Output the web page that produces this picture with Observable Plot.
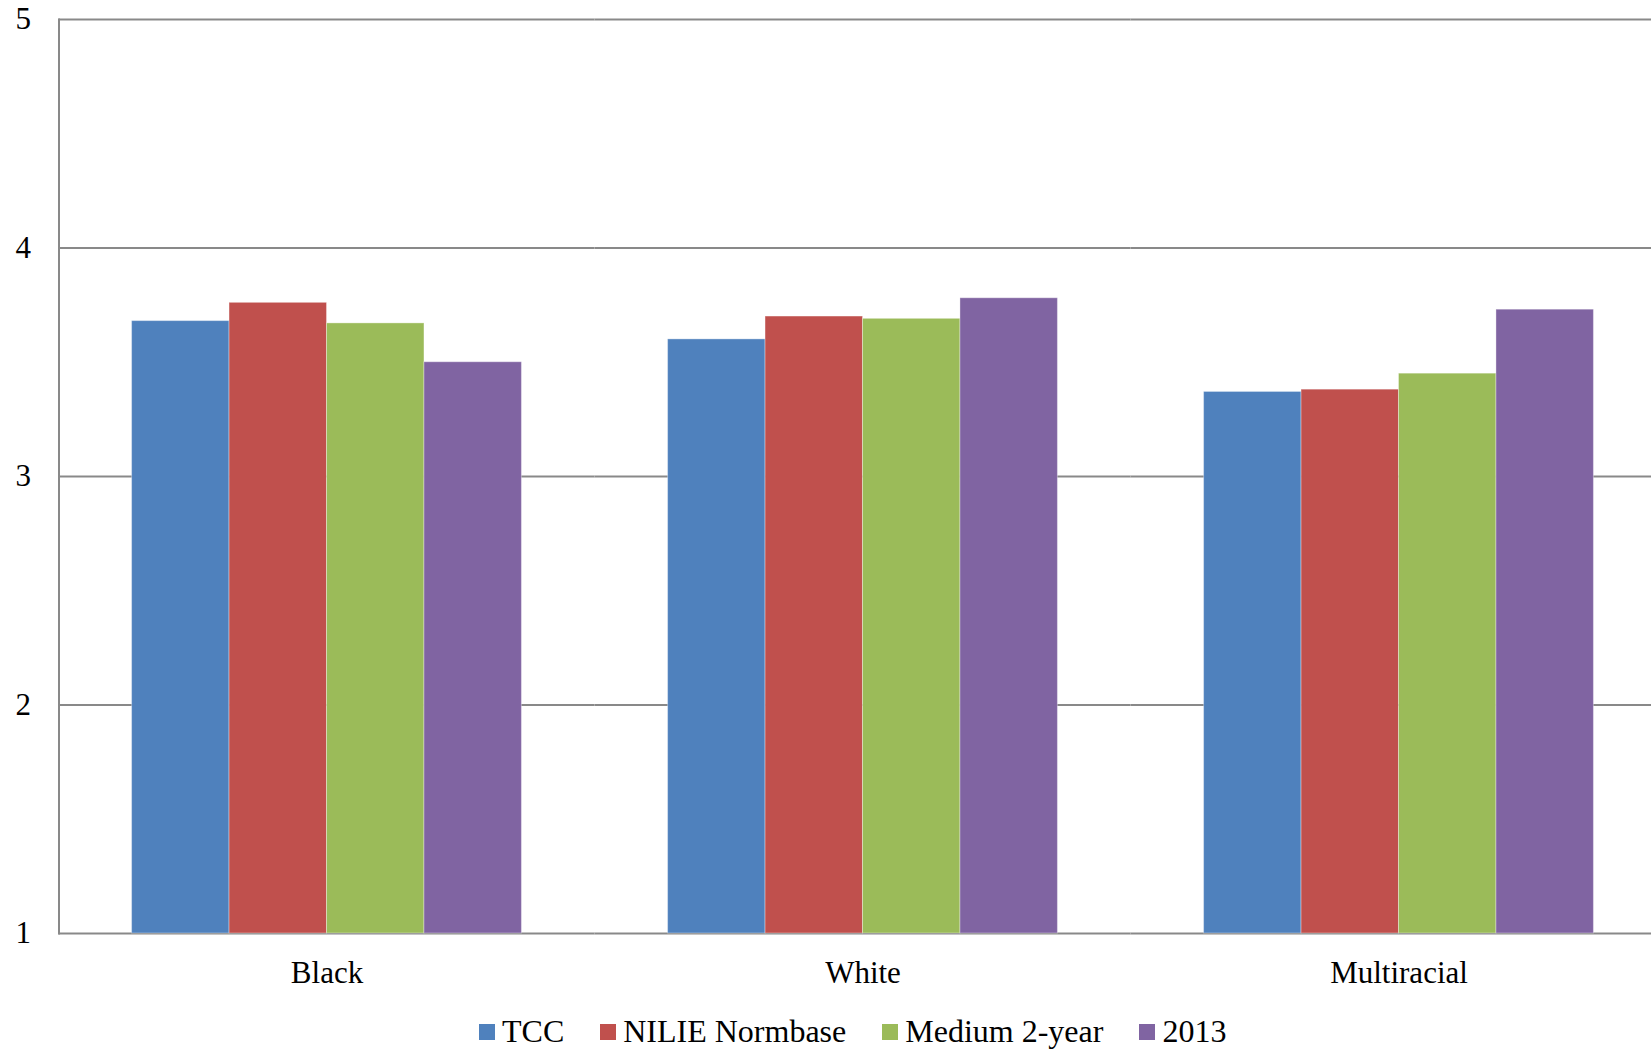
<!DOCTYPE html>
<html>
<head>
<meta charset="utf-8">
<script src="https://cdn.jsdelivr.net/npm/d3@7"></script>
<script src="https://cdn.jsdelivr.net/npm/@observablehq/plot@0.6"></script>
<style>
  html, body { margin: 0; padding: 0; background: #fff; overflow: hidden; }
  #wrap { position: relative; width: 1651px; height: 1051px; font-family: "Liberation Serif", "Times New Roman", serif; }
  #legend { position: absolute; left: 479px; top: 1016px; display: flex; align-items: center; font-size: 32px; line-height: 31px; color: #000; }
  #legend .item { display: flex; align-items: center; margin-right: 36px; }
  #legend .sw { width: 16px; height: 16px; margin-right: 7px; }
  svg text { font-family: "Liberation Serif", "Times New Roman", serif !important; font-variant: normal !important; }
</style>
</head>
<body>
<div id="wrap"><div id="chart"></div><div id="legend"></div></div>
<script>
const groups = ["Black", "White", "Multiracial"];
const series = ["TCC", "NILIE Normbase", "Medium 2-year", "2013"];
const tcc = [3.68, 3.60, 3.37];
const nilie = [3.76, 3.70, 3.38];
const medium = [3.67, 3.69, 3.45];
const y2013 = [3.50, 3.78, 3.73];
const yTicks = [1, 2, 3, 4, 5];
const colors = ["#4F81BD", "#C0504D", "#9BBB59", "#8064A2"];

const seriesValues = [tcc, nilie, medium, y2013];
const rows = [];
groups.forEach((g, gi) => {
  series.forEach((s, si) => {
    rows.push({group: g, series: s, value: seriesValues[si][gi]});
  });
});

const grid = "#898989";
const serif = '"Liberation Serif", "Times New Roman", serif';

const chart = Plot.plot({
  width: 1651,
  height: 1000,
  marginTop: 19,
  marginBottom: 67,
  marginLeft: 58.5,
  marginRight: -15.5,
  style: {fontFamily: serif, color: "#000", background: "#fff", overflow: "visible"},
  fx: {domain: groups, padding: 0, label: null, round: false},
  x: {domain: series, paddingInner: 0, paddingOuter: 0.75, axis: null, round: false},
  y: {domain: [1, 5], axis: null},
  color: {domain: series, range: colors},
  marks: [
    Plot.ruleY(yTicks, {stroke: grid, strokeWidth: 2}),
    Plot.frame({anchor: "left", facetAnchor: "left", stroke: grid, strokeWidth: 2}),
    Plot.barY(rows, {fx: "group", x: "series", y1: 1, y2: "value", fill: "series", stroke: "#fff", strokeOpacity: 0.35, strokeWidth: 1}),
    Plot.text(yTicks, {y: d => d, text: d => String(d), frameAnchor: "left", facetAnchor: "left", textAnchor: "end", dx: -28, fontSize: 31, fontFamily: serif, fill: "#000"}),
    Plot.axisFx({anchor: "bottom", tickSize: 0, tickPadding: 27, fontSize: 31, fontFamily: serif, label: null})
  ]
});
document.getElementById("chart").appendChild(chart);

const legend = document.getElementById("legend");
series.forEach((s, i) => {
  const item = document.createElement("div");
  item.className = "item";
  const sw = document.createElement("div");
  sw.className = "sw";
  sw.style.background = colors[i];
  const label = document.createElement("span");
  label.textContent = s;
  item.appendChild(sw);
  item.appendChild(label);
  legend.appendChild(item);
});
</script>
</body>
</html>
